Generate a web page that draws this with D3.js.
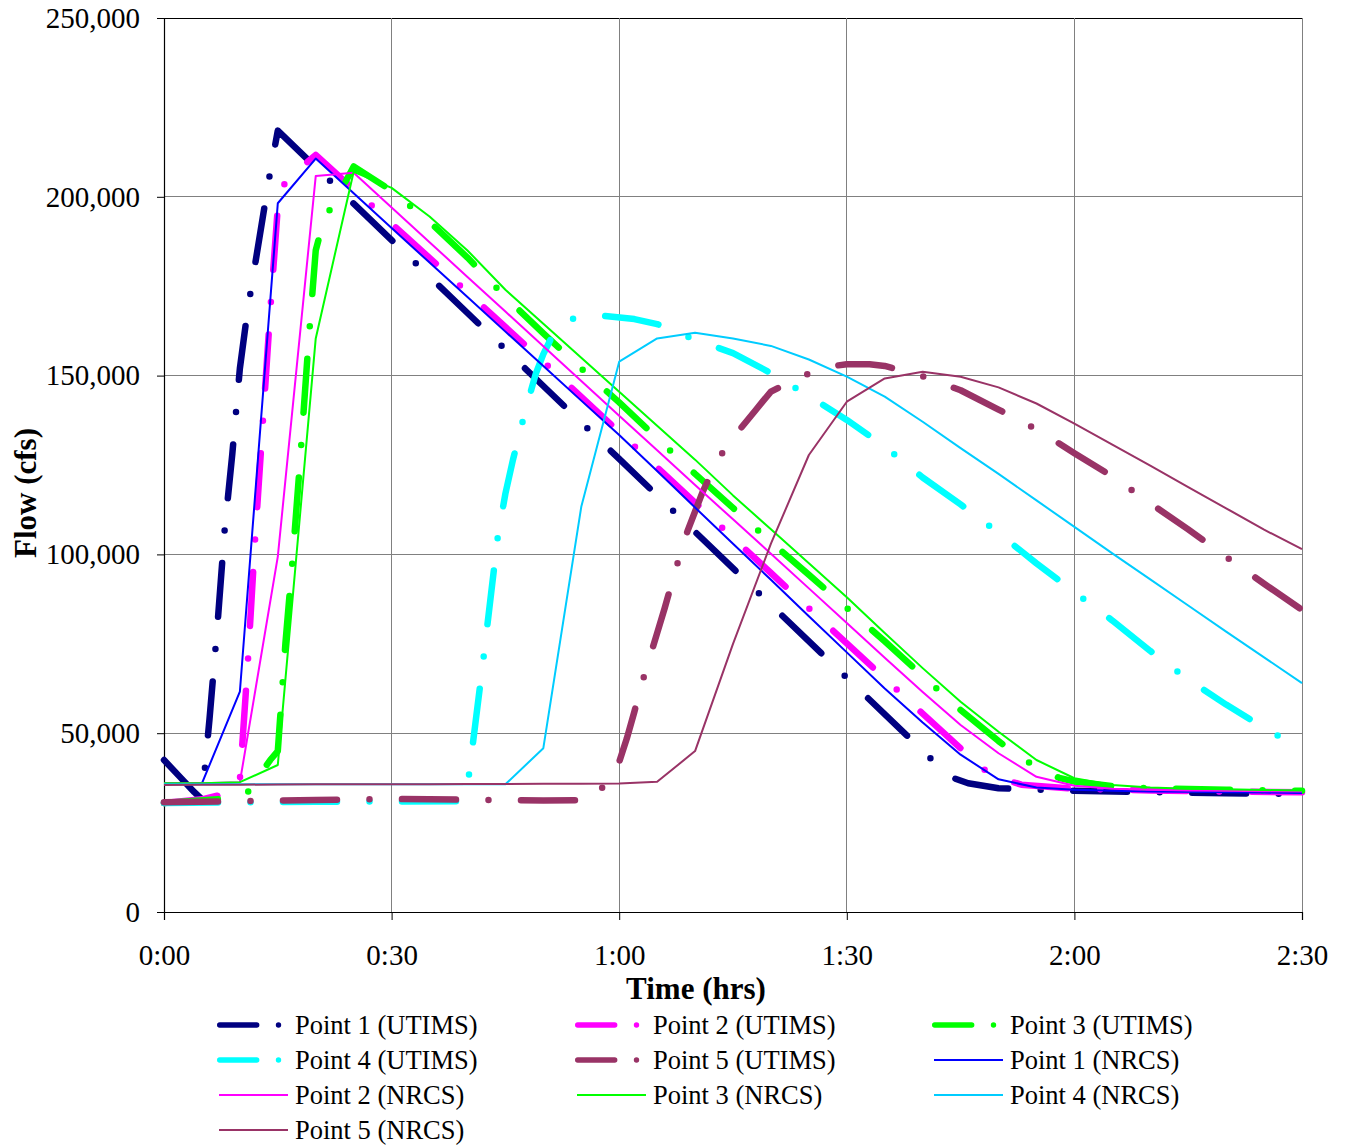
<!DOCTYPE html>
<html><head><meta charset="utf-8">
<script src="https://cdn.jsdelivr.net/npm/d3@7"></script>
<style>
html,body{margin:0;padding:0;background:#fff;}
svg{display:block;font-family:"Liberation Serif","Times New Roman",serif;}
</style></head>
<body>
<svg id="chart" width="1348" height="1146"></svg>
<script>
// ---------- data ----------
const xTicks = [0, 30, 60, 90, 120, 150];
const xTickLabels = ["0:00", "0:30", "1:00", "1:30", "2:00", "2:30"];
const yTicks = [0, 50000, 100000, 150000, 200000, 250000];
const yTickLabels = ["0", "50,000", "100,000", "150,000", "200,000", "250,000"];

const seriesNames = ["Point 1 (UTIMS)", "Point 2 (UTIMS)", "Point 3 (UTIMS)", "Point 4 (UTIMS)", "Point 5 (UTIMS)",
                     "Point 1 (NRCS)", "Point 2 (NRCS)", "Point 3 (NRCS)", "Point 4 (NRCS)", "Point 5 (NRCS)"];
const seriesColors = ["#000080", "#FF00FF", "#00FF00", "#00FFFF", "#993366",
                      "#0000FF", "#FF00FF", "#00FF00", "#00CCFF", "#993366"];

// UTIMS (minutes, cfs)
const p1uT = [0,2,4,5,6,7,8,9,10,11,12,13,14,15,20,30,40,50,60,70,80,90,100,102,104,106,110,120,130,140,150];
const p1uQ = [42500,38000,33500,31500,54000,79000,107000,128000,152000,168000,181000,194000,207000,218500,208300,187900,167500,147100,126700,106300,85900,65500,45100,41000,37500,36000,34600,33900,33500,33200,33000];
const p2uT = [0,5,7,9,10,11,12,13,14,15,16,20,30,40,50,60,70,80,90,100,105,108,110,113,120,130,140,150];
const p2uQ = [30500,31500,32500,33500,37000,68000,104000,136000,168000,197000,204500,211700,192500,173300,153900,134200,114500,94800,75100,55500,45800,40000,37600,35600,34500,34000,33700,33500];
const p3uT = [0,10,11,12,13,14,15,16,17,18,19,20,21,22,23,24,25,30,35,40,45,50,55,60,65,70,75,80,85,90,95,100,105,110,112,115,118,120,125,130,140,150];
const p3uQ = [30500,32000,33400,36500,39500,42500,45000,75000,100000,128000,158000,185000,193000,197000,200500,204500,208500,201700,193000,183000,172000,161800,152000,142500,132500,122500,113000,103500,94300,85000,75700,66000,56500,47800,44500,40500,37500,36500,35200,34600,34200,33900];
const p4uT = [0,20,39,40,41,42,43,44,45,46,47,48,49,50,51,52,53,55,58,62,65,67,70,75,80,85,90,95,100,105,110,115,120,125,130,135,140,145,150];
const p4uQ = [30500,30800,31000,35000,52000,69000,87000,105000,117000,126500,135000,143000,150500,156000,160300,163300,165300,166600,166700,165800,164400,162800,160000,156300,150700,144300,137600,130200,121500,114000,106000,97500,89500,81500,73000,65000,58000,51500,45500];
const p5uT = [0,10,20,30,40,50,56,57,58,59,60,61,62,63,64,65,66,67,68,69,70,71,72,73,74,75,76,77,78,79,80,82,84,86,88,90,93,95,97,100,105,110,115,120,125,130,135,140,145,150];
const p5uQ = [30700,31000,31300,31600,31400,31200,31300,32500,35500,39000,42000,48500,56000,64000,71000,78000,85000,92500,99800,106500,112000,117500,122000,126000,130000,132500,135200,137800,140400,143000,145500,147700,149700,151500,152600,153200,153200,152700,151600,149800,145900,140500,135000,128300,121800,114300,107000,99300,91800,84500];

// NRCS (5-minute steps)
const nrcsT = [0,5,10,15,20,25,30,35,40,45,50,55,60,65,70,75,80,85,90,95,100,105,110,115,120,125,130,135,140,145,150];
const p1nQ = [36000,36000,61600,198200,210700,201000,191300,181600,172000,162300,152700,143000,133400,123300,113100,103000,92900,82700,72600,62500,53000,44000,37100,34800,34200,33900,33700,33600,33500,33400,33300];
const p2nQ = [36000,36000,36300,99400,205800,206700,197000,187300,177600,167900,158200,148500,138800,129100,119400,109800,100200,90500,80800,71100,61500,52300,44400,37800,35300,34500,34200,34000,33900,33800,33700];
const p3nQ = [36000,36000,36300,41100,160400,207000,202500,194500,185000,174000,164500,155000,145500,136000,126500,116500,107000,97500,88000,78000,68200,58800,50400,42500,37400,35500,34800,34500,34300,34100,34000];
const p4nQ = [35700,35700,35700,35700,35700,35700,35700,35700,35700,35700,45800,113300,153900,160400,162000,160400,158300,154500,149700,144100,137100,129700,122500,115100,107700,100300,93000,85700,78400,71200,64000];
const p5nQ = [35500,35550,35600,35650,35700,35700,35750,35750,35800,35800,35850,35850,35900,36400,45000,75000,103000,127800,142700,149200,151100,149700,146700,142200,136600,130700,124800,118800,112900,106900,101500];

// ---------- build ----------
const times = [p1uT, p2uT, p3uT, p4uT, p5uT, nrcsT, nrcsT, nrcsT, nrcsT, nrcsT];
const flows = [p1uQ, p2uQ, p3uQ, p4uQ, p5uQ, p1nQ, p2nQ, p3nQ, p4nQ, p5nQ];
const series = seriesNames.map((name, i) => ({
  name, color: seriesColors[i], utims: i < 5,
  values: times[i].map((t, j) => ({t, q: flows[i][j]}))
}));

const svg = d3.select("#chart");
svg.append("rect").attr("width", 1348).attr("height", 1146).attr("fill", "#fff");

const L = 164, R = 1302, T = 18, B = 912;
const x = d3.scaleLinear().domain([0, 150]).range([L, R]);
const y = d3.scaleLinear().domain([0, 250000]).range([B, T]);

// gridlines
const grid = svg.append("g");
grid.selectAll("line.h").data(yTicks.filter(d => d > 0)).join("line")
  .attr("x1", L).attr("x2", R).attr("y1", d => y(d)).attr("y2", d => y(d))
  .attr("stroke", d => d === 250000 ? "#000" : "#808080").attr("stroke-width", 1)
  .attr("shape-rendering", "crispEdges");
grid.selectAll("line.v").data(xTicks.filter(d => d > 0)).join("line")
  .attr("x1", d => x(d)).attr("x2", d => x(d)).attr("y1", T).attr("y2", B)
  .attr("stroke", "#808080").attr("stroke-width", 1)
  .attr("shape-rendering", "crispEdges");

// axes
const yAxis = d3.axisLeft(y).tickValues(yTicks).tickFormat((d, i) => yTickLabels[i]).tickSize(7).tickPadding(17);
const gy = svg.append("g").attr("transform", `translate(${L},0)`).call(yAxis);
const xAxis = d3.axisBottom(x).tickValues(xTicks).tickFormat((d, i) => xTickLabels[i]).tickSize(8).tickPadding(24);
const gx = svg.append("g").attr("transform", `translate(0,${B})`).call(xAxis);
[gx, gy].forEach(g => {
  g.select(".domain").attr("stroke", "#000").attr("stroke-width", 1.2);
  g.selectAll(".tick line").attr("stroke", "#000");
  g.selectAll(".tick text").attr("fill", "#000").attr("font-size", 29)
    .attr("font-family", '"Liberation Serif","Times New Roman",serif');
});

// series
const line = d3.line().x(d => x(d.t)).y(d => y(d.q)).curve(d3.curveLinear);
const plot = svg.append("g");
series.forEach(s => {
  plot.append("path").datum(s.values)
    .attr("d", line).attr("fill", "none")
    .attr("stroke", s.color)
    .attr("stroke-width", s.utims ? 6.5 : 2)
    .attr("stroke-linecap", s.utims ? "round" : "butt")
    .attr("stroke-linejoin", "round")
    .attr("stroke-dasharray", s.utims ? "54,32.5,0,32.5" : null);
});

// axis titles
svg.append("text").attr("x", 696).attr("y", 999).attr("text-anchor", "middle")
  .attr("font-size", 31).attr("font-weight", "bold").text("Time (hrs)");
svg.append("text").attr("transform", "translate(36,493) rotate(-90)").attr("text-anchor", "middle")
  .attr("font-size", 31).attr("font-weight", "bold").text("Flow (cfs)");

// legend
const colX = [217, 575, 932];
const rowY = [1025, 1060, 1095, 1130];
const leg = svg.append("g");
series.forEach((s, i) => {
  const cx = colX[i % 3], cy = rowY[Math.floor(i / 3)];
  const g = leg.append("g").attr("transform", `translate(${cx},${cy})`);
  if (s.utims) {
    g.append("line").attr("x1", 2.7).attr("x2", 72).attr("y1", 0).attr("y2", 0)
      .attr("stroke", s.color).attr("stroke-width", 5.4).attr("stroke-linecap", "round")
      .attr("stroke-dasharray", "37,21.8,0,100");
  } else {
    g.append("line").attr("x1", 2).attr("x2", 71).attr("y1", 0).attr("y2", 0)
      .attr("stroke", s.color).attr("stroke-width", 2);
  }
  g.append("text").attr("x", 78).attr("y", 9).attr("font-size", 26.5).attr("fill", "#000").text(s.name);
});
</script>
</body></html>
